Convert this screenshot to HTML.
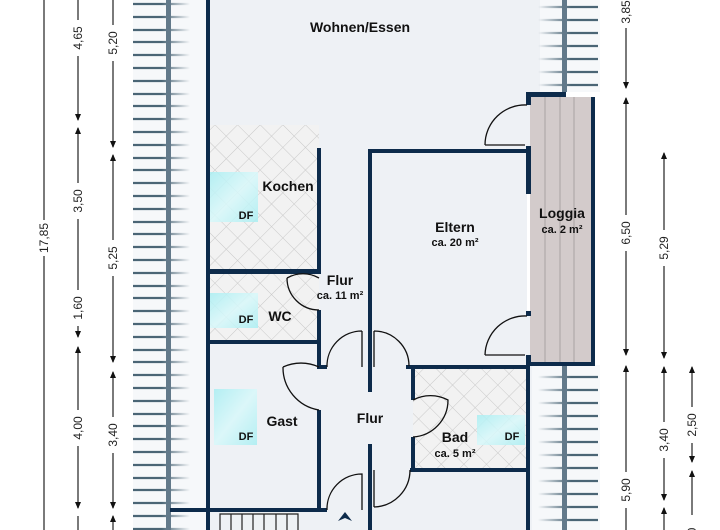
<!DOCTYPE html>
<html><head><meta charset="utf-8"><style>
html,body{margin:0;padding:0;background:#fff;}
svg{display:block;font-family:"Liberation Sans",Arial,sans-serif;}
</style></head><body>
<svg width="720" height="530" viewBox="0 0 720 530" xmlns="http://www.w3.org/2000/svg">
<defs>
<pattern id="hx" width="16" height="16" patternUnits="userSpaceOnUse" patternTransform="rotate(45)">
<rect width="16" height="16" fill="#f2f2f2"/>
<path d="M0 0H16M0 0V16" stroke="#c9c9c9" stroke-width="1"/>
</pattern>
<linearGradient id="st" x1="0" x2="1" y1="0" y2="0">
<stop offset="0" stop-color="#4a6575"/><stop offset="0.5" stop-color="#4a6575"/><stop offset="1" stop-color="#4a6575" stop-opacity="0"/>
</linearGradient>
<linearGradient id="st2" x1="1" x2="0" y1="0" y2="0">
<stop offset="0" stop-color="#4a6575"/><stop offset="0.45" stop-color="#4a6575"/><stop offset="1" stop-color="#4a6575" stop-opacity="0"/>
</linearGradient>
<linearGradient id="df" x1="0" y1="0" x2="1" y2="1">
<stop offset="0" stop-color="#a9eef2"/><stop offset="0.5" stop-color="#d8f8fa"/><stop offset="1" stop-color="#a9eef2"/>
</linearGradient>
</defs>
<rect width="720" height="530" fill="#fff"/>
<rect x="133" y="0" width="74" height="530" fill="#f6f8fa"/>
<rect x="209" y="0" width="331" height="530" fill="#eef1f5"/>
<rect x="527" y="0" width="14" height="92" fill="#eef1f5"/>
<rect x="370" y="367" width="157" height="163" fill="#eef1f5"/>
<rect x="209" y="125" width="110" height="145" fill="url(#hx)"/>
<rect x="209" y="273" width="110" height="69" fill="url(#hx)"/>
<rect x="413" y="369" width="114" height="101" fill="url(#hx)"/>
<rect x="530" y="97" width="63" height="266" fill="#d3cbcb"/>
<path d="M545 97V363M560 97V363M574 97V363" stroke="#a9a3a3" stroke-width="1"/>
<rect x="540" y="0" width="60" height="92" fill="#f6f8fa"/>
<rect x="532" y="365" width="68" height="165" fill="#f6f8fa"/>
<g fill="none">
<g stroke="url(#st)" stroke-width="2.2">
<path d="M133 4h57M133 17h57M133 30h57M133 42h57M133 55h57M133 68h57M133 81h57M133 94h57M133 106h57M133 119h57M133 132h57M133 145h57M133 158h57M133 170h57M133 183h57M133 196h57M133 209h57M133 222h57M133 234h57M133 247h57M133 260h57M133 273h57M133 286h57M133 298h57M133 311h57M133 324h57M133 337h57M133 350h57M133 362h57M133 375h57M133 388h57M133 401h57M133 414h57M133 426h57M133 439h57M133 452h57M133 465h57M133 478h57M133 490h57M133 503h57M133 516h57M133 529h57"/>
</g>
<rect x="166" y="0" width="5" height="530" fill="#62798a" stroke="none"/>
<g stroke="url(#st2)" stroke-width="2.2">
<path d="M538 7h60M538 20h60M538 33h60M538 46h60M538 59h60M538 72h60M538 85h60M538 377h60M538 390h60M538 403h60M538 416h60M538 429h60M538 442h60M538 455h60M538 468h60M538 481h60M538 494h60M538 507h60M538 520h60"/>
</g>
<rect x="562" y="0" width="5" height="92" fill="#62798a" stroke="none"/>
<rect x="562" y="365" width="5" height="165" fill="#62798a" stroke="none"/>
</g>
<rect x="210" y="172" width="48" height="50" fill="url(#df)" opacity="0.85"/>
<rect x="210" y="293" width="48" height="35" fill="url(#df)" opacity="0.85"/>
<rect x="214" y="389" width="43" height="56" fill="url(#df)" opacity="0.85"/>
<rect x="477" y="415" width="48" height="30" fill="url(#df)" opacity="0.85"/>
<g fill="#0d2b4b">
<rect x="206" y="0" width="4" height="530"/>
<rect x="317" y="148" width="4" height="125"/>
<rect x="209" y="269" width="112" height="5"/>
<rect x="209" y="340" width="112" height="4"/>
<rect x="317" y="310" width="4" height="57"/>
<rect x="317" y="410" width="4" height="100"/>
<rect x="170" y="508" width="157" height="4"/>
<rect x="368" y="149" width="4" height="218"/>
<rect x="368" y="367" width="4" height="25"/>
<rect x="368" y="444" width="4" height="86"/>
<rect x="368" y="149" width="160" height="4"/>
<rect x="526" y="92" width="40" height="5"/>
<rect x="526" y="92" width="5" height="13"/>
<rect x="526" y="146" width="5" height="48"/>
<rect x="526" y="311" width="5" height="5"/>
<rect x="526" y="355" width="5" height="10"/>
<rect x="591" y="97" width="4" height="268"/>
<rect x="526" y="362" width="69" height="4"/>
<rect x="410" y="365" width="120" height="4"/>
<rect x="411" y="365" width="4" height="35"/>
<rect x="411" y="437" width="4" height="35"/>
<rect x="410" y="468" width="120" height="4"/>
<rect x="526" y="363" width="4" height="167"/>
<rect x="317" y="365" width="10" height="4"/>
<rect x="406" y="365" width="8" height="4"/>
</g>
<rect x="527" y="194" width="3" height="117" fill="#fff"/>
<g fill="none" stroke="#111" stroke-width="1.3">
<path d="M319 278 A32 32 0 0 0 287 278 M287 278 A32 32 0 0 0 319 310"/>
<path d="M362 331 L362 367 M327 367 A35 35 0 0 1 362 331"/>
<path d="M319 367 A43 43 0 0 0 283 367 M283 367 A43 43 0 0 0 319 410"/>
<path d="M374 331 L374 367 M374 331 A35 35 0 0 1 409 366"/>
<path d="M413 400 A37 37 0 0 1 448 400 A37 37 0 0 1 413 437"/>
<path d="M485 145 H525 M485 145 A40 40 0 0 1 527 105"/>
<path d="M485 355 H525 M485 355 A40 40 0 0 1 527 316"/>
<path d="M327 510 A35 35 0 0 1 362 474 V510"/>
<path d="M374 470 V507 M374 507 A37 37 0 0 0 410 470"/>
</g>
<g fill="none" stroke="#222" stroke-width="1.2">
<path d="M220 530V514H298V530M231 514V530M242 514V530M253 514V530M264 514V530M276 514V530M287 514V530"/>
</g>
<path d="M338 521 L345 512 L352 521 L345 518Z" fill="#0d2b4b"/>
<g font-weight="bold" fill="#111" text-anchor="middle">
<text x="360" y="32" font-size="14">Wohnen/Essen</text>
<text x="288" y="191" font-size="14">Kochen</text>
<text x="455" y="232" font-size="14">Eltern</text>
<text x="455" y="246" font-size="11">ca. 20 m²</text>
<text x="562" y="218" font-size="14">Loggia</text>
<text x="562" y="233" font-size="11">ca. 2 m²</text>
<text x="340" y="285" font-size="14">Flur</text>
<text x="340" y="299" font-size="11">ca. 11 m²</text>
<text x="280" y="321" font-size="14">WC</text>
<text x="282" y="426" font-size="14">Gast</text>
<text x="370" y="423" font-size="14">Flur</text>
<text x="455" y="442" font-size="14">Bad</text>
<text x="455" y="457" font-size="11">ca. 5 m²</text>
<text x="246" y="219" font-size="11">DF</text>
<text x="246" y="323" font-size="11">DF</text>
<text x="246" y="440" font-size="11">DF</text>
<text x="512" y="440" font-size="11">DF</text>
</g>
<g stroke="#333" stroke-width="1.3">
<path d="M44 0V530"/>
<path d="M78 0V120M78 128V337M78 347V508M78 516V530"/>
<path d="M113 0V147M113 155V362M113 372V508M113 516V530"/>
<path d="M626 0V88M626 98V355M626 366V530"/>
<path d="M664 153V358M664 367V500M664 508V530"/>
<path d="M692 367V462M692 471V530"/>
</g>
<g fill="#111">
<path d="M75 114L78 121L81 114ZM75 134L78 127L81 134ZM75 331L78 338L81 331ZM75 353L78 346L81 353ZM75 502L78 509L81 502Z"/>
<path d="M110 141L113 148L116 141ZM110 161L113 154L116 161ZM110 356L113 363L116 356ZM110 378L113 371L116 378ZM110 502L113 509L116 502ZM110 522L113 515L116 522Z"/>
<path d="M623 82L626 89L629 82ZM623 104L626 97L629 104ZM623 349L626 356L629 349ZM623 372L626 365L629 372Z"/>
<path d="M661 159L664 152L667 159ZM661 352L664 359L667 352ZM661 373L664 366L667 373ZM661 494L664 501L667 494ZM661 514L664 507L667 514Z"/>
<path d="M689 373L692 366L695 373ZM689 456L692 463L695 456ZM689 477L692 470L695 477Z"/>
</g>
<g fill="#fff">
<rect x="38" y="220" width="12" height="36"/>
<rect x="72" y="20" width="12" height="36"/>
<rect x="72" y="183" width="12" height="36"/>
<rect x="72" y="290" width="12" height="36"/>
<rect x="72" y="410" width="12" height="36"/>
<rect x="107" y="25" width="12" height="36"/>
<rect x="107" y="240" width="12" height="36"/>
<rect x="107" y="417" width="12" height="36"/>
<rect x="620" y="0" width="12" height="28"/>
<rect x="620" y="215" width="12" height="36"/>
<rect x="620" y="472" width="12" height="36"/>
<rect x="658" y="230" width="12" height="36"/>
<rect x="658" y="422" width="12" height="36"/>
<rect x="686" y="407" width="12" height="36"/>
<rect x="686" y="515" width="12" height="15"/>
</g>
<g font-size="12" fill="#222" text-anchor="middle">
<text transform="translate(48 238) rotate(-90)">17,85</text>
<text transform="translate(82 38) rotate(-90)">4,65</text>
<text transform="translate(82 201) rotate(-90)">3,50</text>
<text transform="translate(82 308) rotate(-90)">1,60</text>
<text transform="translate(82 428) rotate(-90)">4,00</text>
<text transform="translate(117 43) rotate(-90)">5,20</text>
<text transform="translate(117 258) rotate(-90)">5,25</text>
<text transform="translate(117 435) rotate(-90)">3,40</text>
<text transform="translate(630 12) rotate(-90)">3,85</text>
<text transform="translate(630 233) rotate(-90)">6,50</text>
<text transform="translate(630 490) rotate(-90)">5,90</text>
<text transform="translate(668 248) rotate(-90)">5,29</text>
<text transform="translate(668 440) rotate(-90)">3,40</text>
<text transform="translate(696 425) rotate(-90)">2,50</text>
<text transform="translate(696 531) rotate(-90)">0</text>
</g>
</svg>
</body></html>
